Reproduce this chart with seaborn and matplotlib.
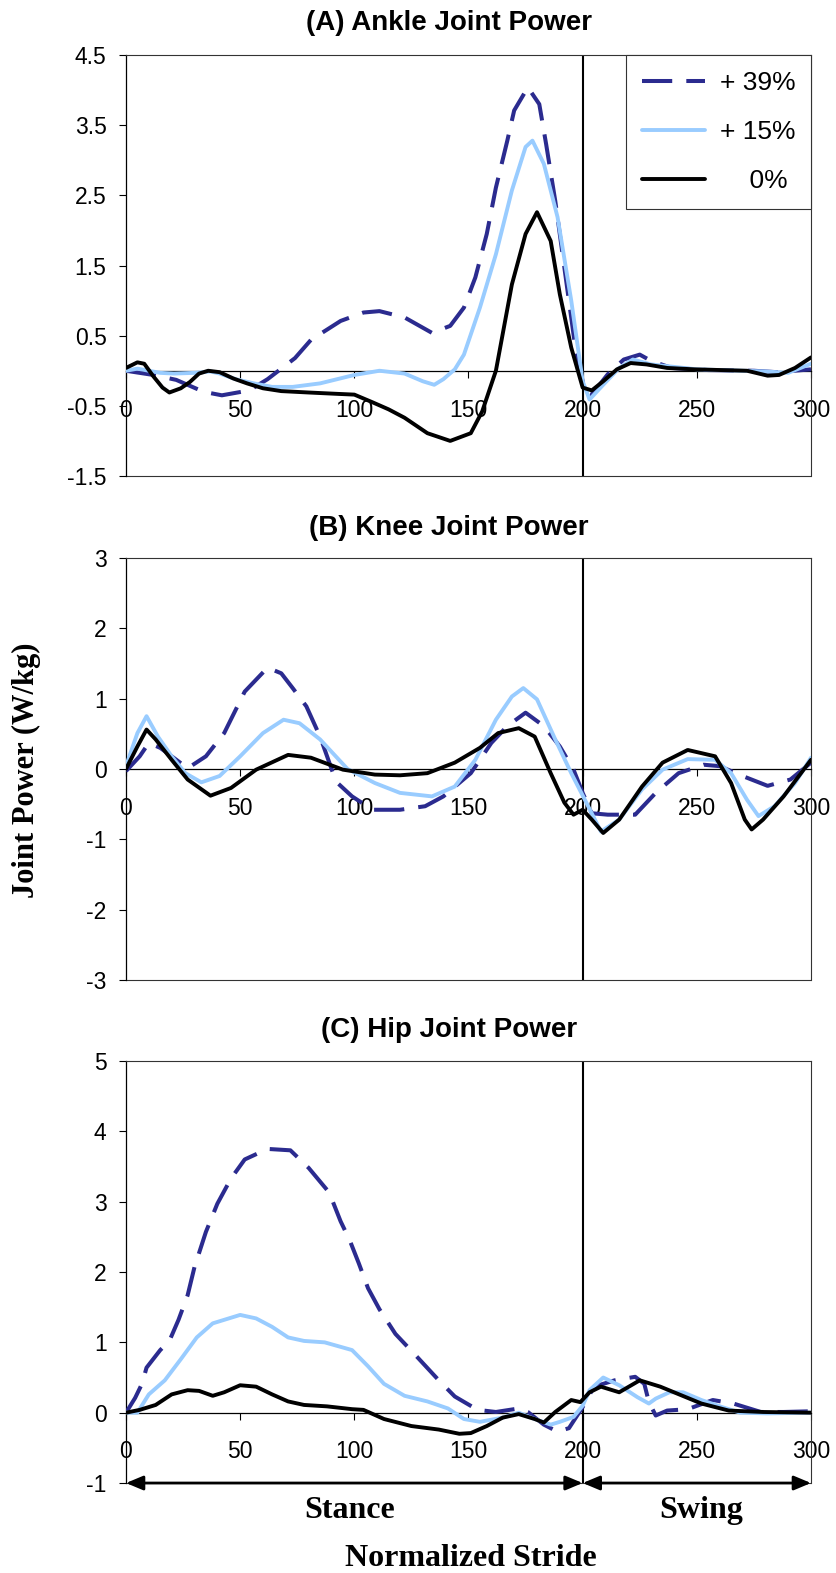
import matplotlib
matplotlib.use('Agg')
import matplotlib.pyplot as plt
import seaborn as sns
import pandas as pd

sns.set_style('ticks')
plt.rcParams['font.family'] = ['Liberation Sans', 'DejaVu Sans']
plt.rcParams['text.color'] = 'black'
plt.rcParams['xtick.color'] = 'black'
plt.rcParams['ytick.color'] = 'black'
plt.rcParams['axes.edgecolor'] = 'black'

# ---- data (normalized stride 0-300, power W/kg) ----
ankle_x_39 = [0, 6, 12, 22, 34, 42, 54, 62, 74, 81, 94, 104, 111, 122, 134, 142, 148, 153, 158, 162,
              167, 170, 176, 181, 184, 188, 193, 197, 201, 204, 211, 218, 225, 230, 239, 255, 275, 285, 300]
ankle_p_39 = [0, -0.03, -0.06, -0.13, -0.3, -0.35, -0.28, -0.12, 0.18, 0.44, 0.71, 0.83, 0.85, 0.76, 0.54, 0.64, 0.9, 1.33, 1.95, 2.61,
              3.28, 3.71, 4.04, 3.8, 3.23, 2.42, 1.23, 0.28, -0.29, -0.34, -0.05, 0.16, 0.23, 0.14, 0.04, 0.01, 0.0, -0.02, 0.02]
ankle_x_15 = [0, 5, 15, 21, 30, 37, 41, 48, 56, 64, 73, 85, 100, 111, 122, 130, 135, 139, 144, 148,
              155, 162, 169, 175, 178, 183, 189, 195, 200, 203, 209, 216, 222, 230, 250, 280, 290, 300]
ankle_p_15 = [0, 0.03, -0.03, -0.04, -0.03, -0.01, -0.04, -0.12, -0.18, -0.23, -0.23, -0.18, -0.06, 0, -0.04, -0.15, -0.2, -0.12, 0.02, 0.23,
              0.9, 1.66, 2.57, 3.19, 3.28, 2.95, 2.19, 1.0, -0.15, -0.41, -0.2, 0.04, 0.16, 0.09, 0.02, -0.01, -0.03, 0.1]
ankle_x_0 = [0, 5, 8, 12, 16, 19, 24, 28, 32, 36, 41, 47, 53, 60, 68, 80, 93, 100, 108, 115,
             122, 132, 142, 151, 156, 162, 169, 175, 180, 186, 190, 195, 200, 204, 209, 215, 221, 228, 237, 249,
             272, 281, 286, 293, 300]
ankle_p_0 = [0.04, 0.12, 0.1, -0.08, -0.24, -0.31, -0.25, -0.16, -0.04, 0, -0.02, -0.11, -0.18, -0.25, -0.29, -0.31, -0.33, -0.34, -0.45, -0.55,
             -0.67, -0.89, -1.0, -0.89, -0.58, 0, 1.23, 1.95, 2.26, 1.85, 1.09, 0.33, -0.24, -0.28, -0.15, 0.02, 0.11, 0.09, 0.04, 0.02,
             0, -0.07, -0.06, 0.04, 0.19]

knee_x_39 = [0, 6, 10, 15, 20, 27, 35, 43, 52, 62, 68, 73, 79, 85, 92, 99, 108, 120, 131, 139,
             151, 160, 167, 175, 183, 190, 196, 200, 204, 211, 223, 232, 242, 253, 260, 270, 281, 291, 300]
knee_p_39 = [-0.03, 0.18, 0.37, 0.3, 0.18, 0.01, 0.18, 0.51, 1.1, 1.44, 1.36, 1.15, 0.89, 0.46, -0.18, -0.39, -0.58, -0.58, -0.53, -0.39,
             -0.06, 0.37, 0.61, 0.8, 0.61, 0.32, -0.01, -0.34, -0.63, -0.65, -0.65, -0.34, -0.06, 0.06, 0.04, -0.1, -0.24, -0.15, 0.09]
knee_x_15 = [0, 5, 9, 14, 20, 26, 33, 41, 50, 60, 69, 76, 85, 97, 109, 120, 134, 144, 153, 162,
             169, 174, 180, 188, 195, 201, 208, 216, 226, 235, 246, 258, 265, 272, 277, 284, 293, 300]
knee_p_15 = [0.04, 0.51, 0.75, 0.46, 0.18, -0.06, -0.19, -0.1, 0.18, 0.51, 0.7, 0.65, 0.42, 0, -0.2, -0.34, -0.39, -0.25, 0.13, 0.7,
             1.03, 1.15, 0.99, 0.42, -0.06, -0.44, -0.89, -0.72, -0.29, -0.01, 0.14, 0.13, -0.06, -0.44, -0.67, -0.53, -0.2, 0.16]
knee_x_0 = [0, 5, 9, 13, 20, 27, 37, 46, 57, 71, 81, 95, 109, 120, 132, 144, 155, 163, 172, 179,
            186, 192, 196, 200, 204, 209, 216, 226, 235, 246, 258, 265, 271, 274, 279, 288, 300]
knee_p_0 = [0, 0.32, 0.56, 0.42, 0.13, -0.15, -0.38, -0.27, -0.01, 0.2, 0.16, -0.01, -0.08, -0.09, -0.06, 0.09, 0.3, 0.51, 0.58, 0.46,
            -0.06, -0.48, -0.65, -0.58, -0.72, -0.91, -0.72, -0.25, 0.09, 0.27, 0.18, -0.2, -0.72, -0.86, -0.72, -0.39, 0.13]

hip_x_39 = [0, 4, 7, 9, 15, 19, 23, 27, 30, 35, 40, 46, 52, 62, 72, 80, 89, 94, 98, 102,
            106, 111, 118, 127, 137, 144, 154, 162, 172, 176, 183, 189, 194, 200, 205, 214, 223, 227, 229, 232,
            237, 246, 257, 266, 278, 288, 300]
hip_p_39 = [0, 0.21, 0.41, 0.64, 0.89, 1.02, 1.32, 1.67, 2.07, 2.57, 2.97, 3.33, 3.6, 3.75, 3.73, 3.48, 3.13, 2.72, 2.45, 2.12,
            1.77, 1.47, 1.12, 0.81, 0.46, 0.23, 0.04, 0.01, 0.06, 0.01, -0.17, -0.27, -0.22, 0.08, 0.37, 0.46, 0.51, 0.41, 0.15, -0.04,
            0.03, 0.05, 0.18, 0.13, 0.01, 0.01, 0.02]
hip_x_15 = [0, 5, 10, 17, 24, 31, 38, 50, 57, 64, 71, 78, 87, 99, 106, 113, 122, 132, 141, 148,
            155, 165, 172, 179, 186, 190, 196, 200, 203, 209, 216, 224, 229, 232, 238, 244, 252, 261, 269, 281, 300]
hip_p_15 = [0, 0, 0.26, 0.46, 0.76, 1.07, 1.27, 1.39, 1.34, 1.22, 1.07, 1.02, 1.0, 0.89, 0.66, 0.41, 0.24, 0.16, 0.06, -0.09,
            -0.13, -0.07, 0, -0.09, -0.17, -0.13, -0.06, 0.1, 0.32, 0.5, 0.39, 0.22, 0.13, 0.2, 0.29, 0.29, 0.18, 0.08, 0, -0.01, 0]
hip_x_0 = [0, 6, 13, 20, 27, 32, 38, 43, 50, 57, 64, 71, 78, 88, 99, 104, 113, 125, 137, 146,
           151, 158, 165, 172, 179, 183, 188, 195, 199, 203, 208, 216, 225, 234, 243, 252, 264, 279, 300]
hip_p_0 = [0, 0.04, 0.11, 0.26, 0.32, 0.31, 0.24, 0.29, 0.39, 0.37, 0.26, 0.16, 0.11, 0.09, 0.05, 0.04, -0.09, -0.19, -0.24, -0.3,
           -0.29, -0.19, -0.07, -0.02, -0.09, -0.14, 0.01, 0.18, 0.15, 0.29, 0.37, 0.29, 0.46, 0.37, 0.25, 0.13, 0.03, 0.01, 0]

cond_labels = ['+ 39%', '+ 15%', '    0%']
cond_colors = ['#2b2b8f', '#99ccff', 'black']
cond_styles = [(0, (7.5, 3.5)), '-', '-']
cond_widths = [2.9, 2.8, 2.8]

panels = [
    ('(A) Ankle Joint Power', [(ankle_x_39, ankle_p_39), (ankle_x_15, ankle_p_15), (ankle_x_0, ankle_p_0)],
     (-1.5, 4.5), [-1.5, -0.5, 0.5, 1.5, 2.5, 3.5, 4.5], '%.1f'),
    ('(B) Knee Joint Power', [(knee_x_39, knee_p_39), (knee_x_15, knee_p_15), (knee_x_0, knee_p_0)],
     (-3, 3), [-3, -2, -1, 0, 1, 2, 3], '%d'),
    ('(C) Hip Joint Power', [(hip_x_39, hip_p_39), (hip_x_15, hip_p_15), (hip_x_0, hip_p_0)],
     (-1, 5), [-1, 0, 1, 2, 3, 4, 5], '%d'),
]

# axes boxes in figure fraction (left, bottom, width, height)
boxes = [(0.1507, 0.6974, 0.8194, 0.2676),
         (0.1507, 0.3770, 0.8194, 0.2683),
         (0.1507, 0.0572, 0.8194, 0.2683)]
title_y = [0.9854, 0.6643, 0.3452]

fig = plt.figure(figsize=(8.36, 15.73), dpi=100)
axes = []
for (title, series, ylim, yticks, fmt), box, ty in zip(panels, boxes, title_y):
    ax = fig.add_axes(box)
    axes.append(ax)
    for (xs, ps), lab, col, ls, lw in zip(series, cond_labels, cond_colors, cond_styles, cond_widths):
        df = pd.DataFrame({'stride': xs, 'power': ps})
        sns.lineplot(data=df, x='stride', y='power', ax=ax, color=col, linestyle=ls,
                     linewidth=lw, label=lab, estimator=None, sort=True, zorder=3)
    ax.set_xlim(0, 300)
    ax.set_ylim(*ylim)
    ax.set_xticks(range(0, 301, 50))
    ax.set_yticks(yticks)
    ax.yaxis.set_major_formatter(matplotlib.ticker.FormatStrFormatter(fmt))
    ax.set_xlabel('')
    ax.set_ylabel('')
    # x axis crosses at zero, plot-area border kept around
    ax.spines['bottom'].set_position(('data', 0))
    ax.spines['bottom'].set_linewidth(0.9)
    ax.spines['left'].set_linewidth(0.9)
    for s in ['top', 'right']:
        ax.spines[s].set_visible(True)
        ax.spines[s].set_linewidth(0.8)
        ax.spines[s].set_color('#333333')
    ax.axhline(ylim[0], color='#333333', lw=0.8, clip_on=False, zorder=1)
    ax.axvline(200, color='black', lw=1.5, zorder=2)
    ax.tick_params(axis='x', direction='out', length=5, width=0.8, pad=15, labelsize=16.5)
    ax.tick_params(axis='y', direction='out', length=5, width=0.8, pad=9, labelsize=16.5)
    fig.text(0.537, ty, title, ha='center', va='center', fontsize=20, fontweight='bold')
    if ax.get_legend() is not None:
        ax.get_legend().remove()

# legend only in panel A
handles, labels = axes[0].get_legend_handles_labels()
axes[0].legend(handles, labels, loc='upper right', bbox_to_anchor=(1, 1), borderaxespad=0,
               fontsize=19, handlelength=2.4, handletextpad=0.55, labelspacing=0.95, borderpad=0.6,
               frameon=True, fancybox=False, framealpha=1, edgecolor='#333333')
axes[0].get_legend().get_frame().set_linewidth(0.8)

# stance / swing arrows along bottom of panel C
axc = axes[2]
arrow = dict(arrowstyle='<|-|>,head_length=0.43,head_width=0.18', color='black', lw=2,
             mutation_scale=24, shrinkA=0, shrinkB=0)
axc.annotate('', xy=(0, -1), xytext=(200, -1), arrowprops=arrow, annotation_clip=False)
axc.annotate('', xy=(200, -1), xytext=(300, -1), arrowprops=arrow, annotation_clip=False)

serif = ['Liberation Serif', 'DejaVu Serif']
fig.text(0.4187, 0.040, 'Stance', ha='center', va='center', fontsize=23, fontweight='bold', family=serif)
fig.text(0.8385, 0.040, 'Swing', ha='center', va='center', fontsize=23, fontweight='bold', family=serif)
fig.text(0.563, 0.0095, 'Normalized Stride', ha='center', va='center', fontsize=23, fontweight='bold', family=serif)
fig.text(0.032, 0.5105, 'Joint Power (W/kg)', ha='center', va='center', rotation=90,
         fontsize=22, fontweight='bold', family=serif)

fig.savefig('out.png', dpi=100)
